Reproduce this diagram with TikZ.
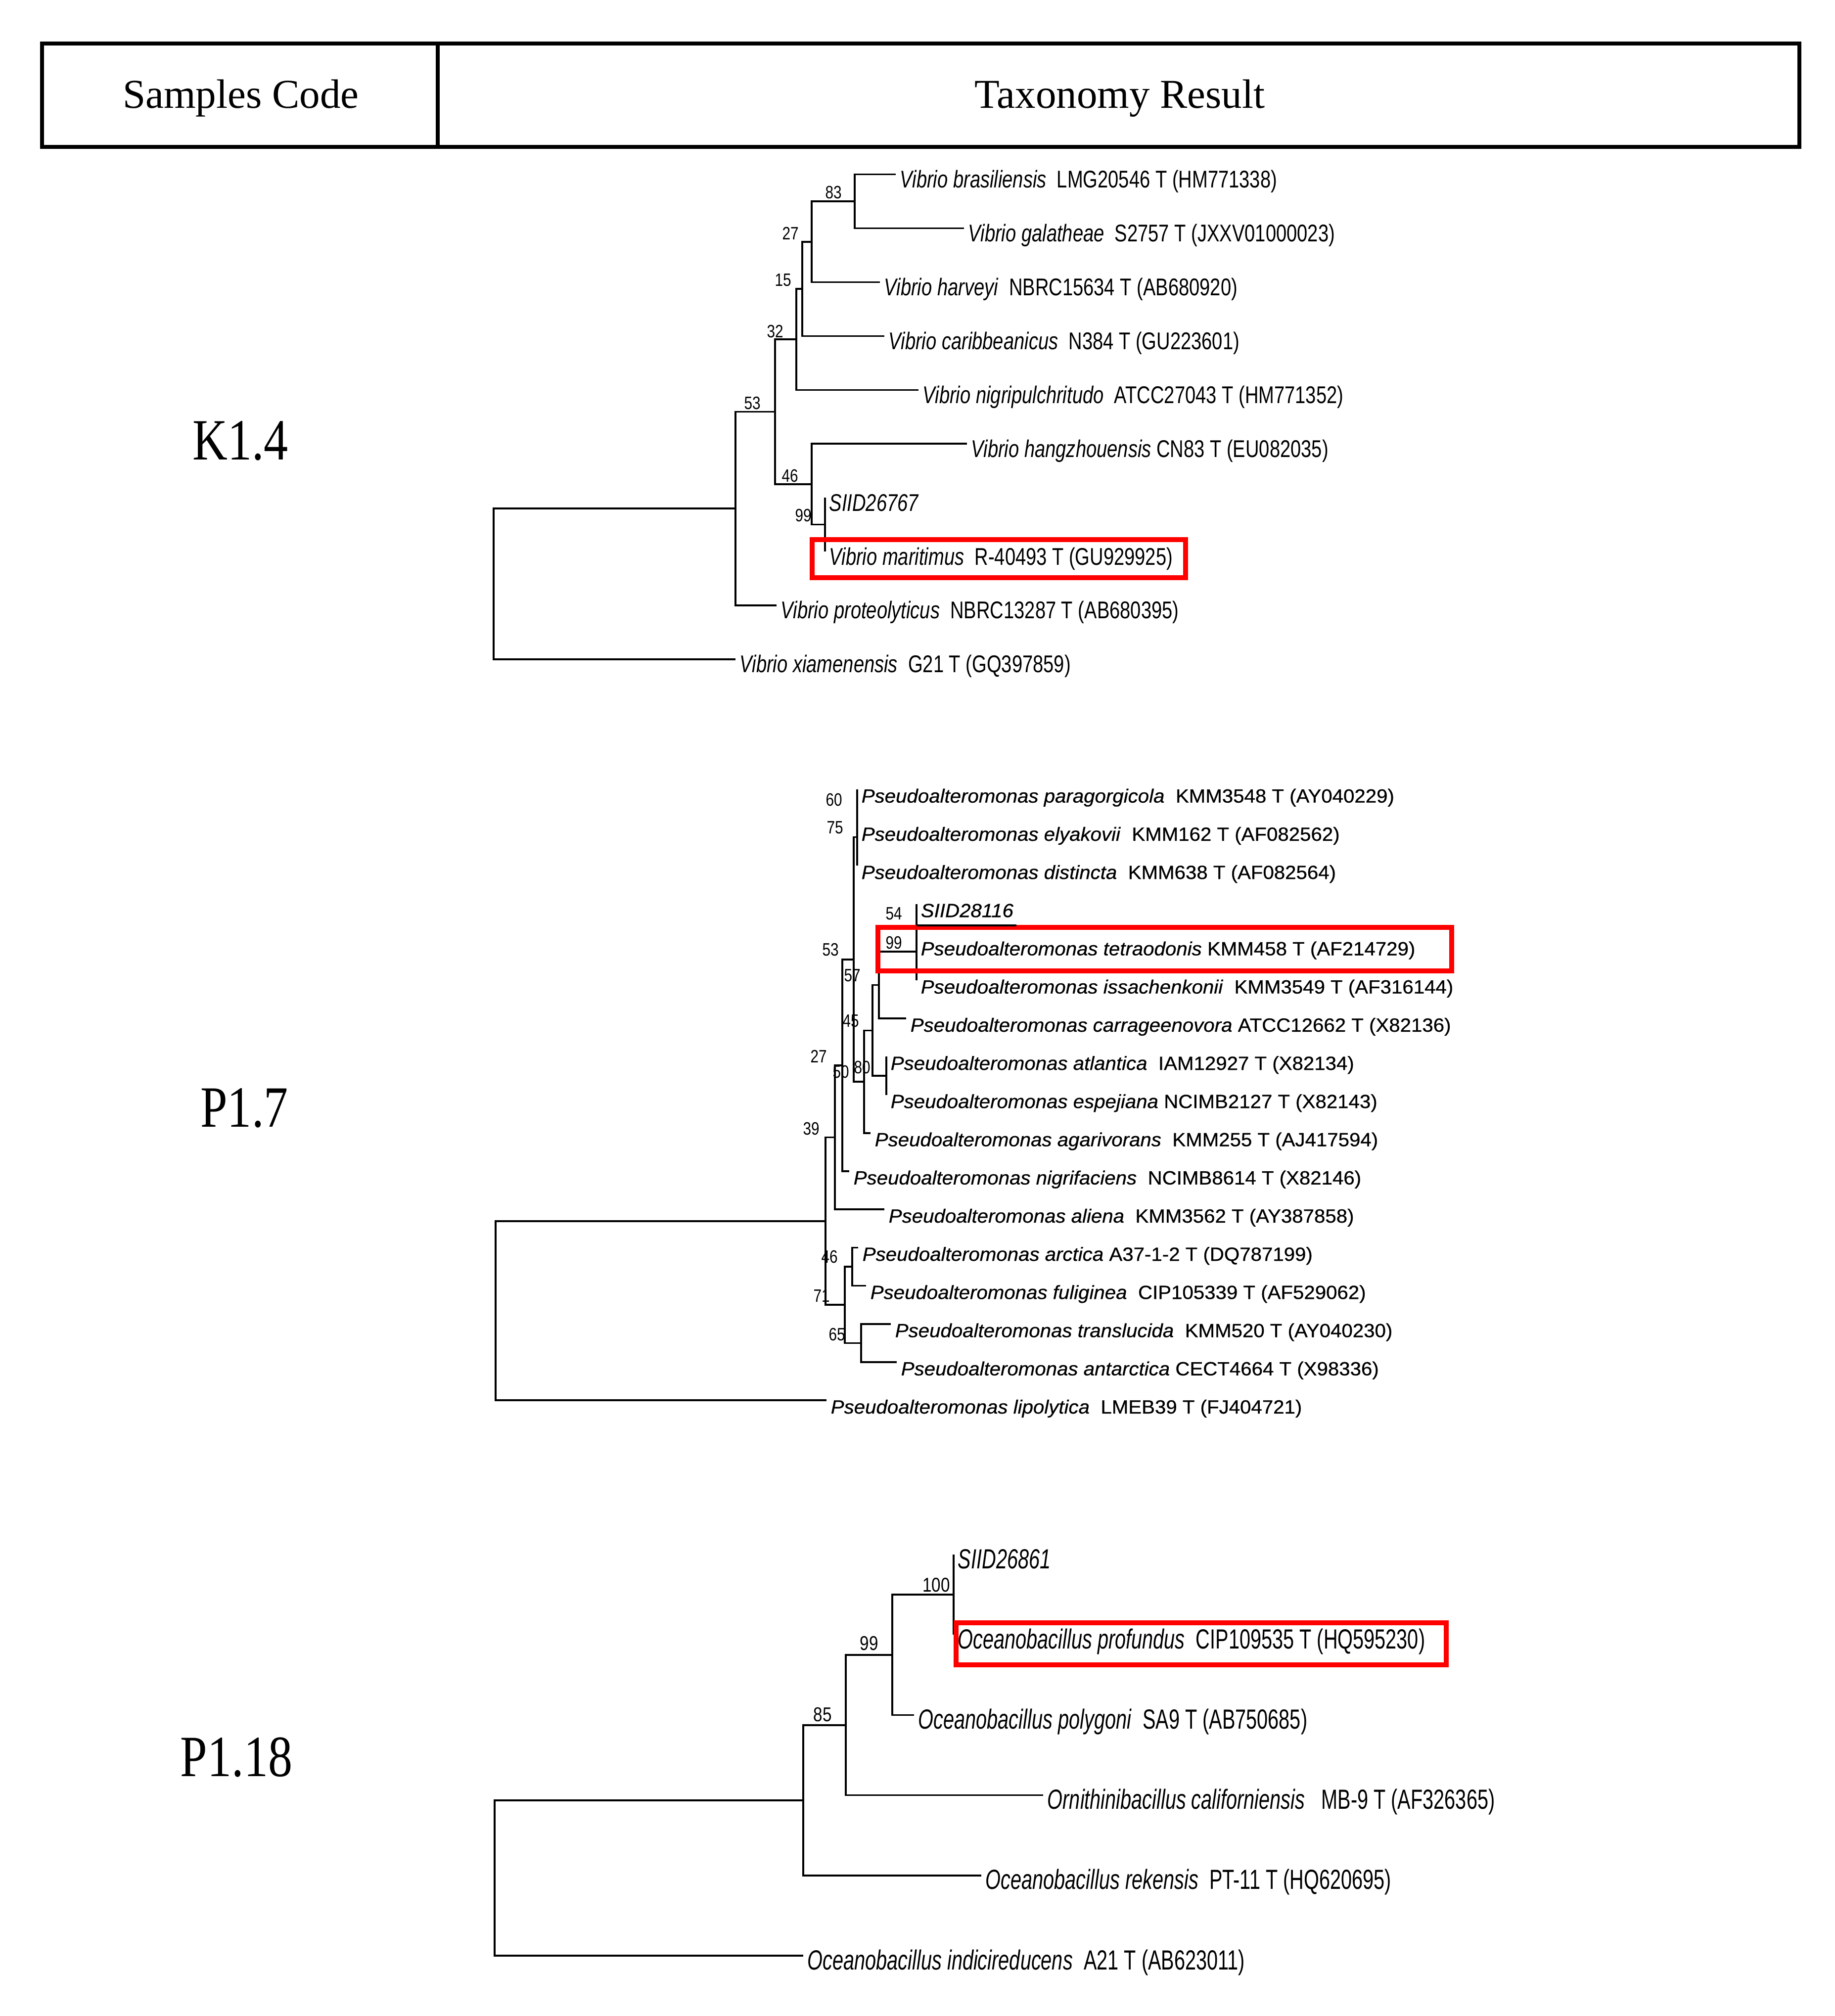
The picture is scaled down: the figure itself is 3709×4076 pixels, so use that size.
\documentclass[tikz,border=0pt]{standalone}
\usepackage{fontspec}
\setmainfont{Liberation Serif}
\newfontfamily\codeFont[FakeStretch=0.83]{Liberation Serif}
\newfontfamily\vibrioFont[FakeStretch=0.78]{Liberation Sans}
\newfontfamily\pseudoFont[FakeStretch=1.04,FakeBold=0.6]{Liberation Sans}
\newfontfamily\oceanoFont[FakeStretch=0.71]{Liberation Sans}
\newfontfamily\bootFont[FakeStretch=0.82]{Liberation Sans}
\usetikzlibrary{calc,positioning}

\begin{document}
\begin{tikzpicture}[x=0.01cm,y=-0.01cm,
  grid/.style={line width=2.2pt},
  br/.style={line width=1pt},
  hl/.style={draw=red,line width=2.8pt},
  head/.style={anchor=base,inner sep=0pt,font=\fontsize{23.6}{28}\selectfont},
  code/.style={inner sep=0pt,font=\codeFont\fontsize{33.6}{40}\selectfont},
  leafK/.style={anchor=base west,inner sep=0pt,xshift=2.3pt,yshift=-7.7pt,
                font=\vibrioFont\fontsize{13.9}{16}\selectfont},
  leafP/.style={anchor=base west,inner sep=0pt,xshift=2.3pt,yshift=-7.6pt,
                font=\pseudoFont\fontsize{11}{13}\selectfont},
  leafO/.style={anchor=base west,inner sep=0pt,xshift=2.3pt,yshift=-8pt,
                font=\oceanoFont\fontsize{15.9}{19}\selectfont},
  bootK/.style={inner sep=0pt,font=\bootFont\fontsize{10.3}{12}\selectfont},
  bootP/.style={inner sep=0pt,font=\bootFont\fontsize{10.3}{12}\selectfont},
  bootO/.style={inner sep=0pt,font=\bootFont\fontsize{11.5}{13}\selectfont}]
  \useasboundingbox (0,0) rectangle (3709,4076);

  % header table
  \draw[grid] (85,88) rectangle (3638,297);
  \draw[grid] (885,88) -- (885,297);
  \node[head] (hcode) at (487,219) {Samples Code};
  \node[head] (hres)  at (2264,219) {Taxonomy Result};
  \node[code] (c1) at (486,891)  {K1.4};
  \node[code] (c2) at (494,2240) {P1.7};
  \node[code] (c3) at (478,3553) {P1.18};

  % ---- K1.4 tree ----
  \coordinate (kt0) at (1811,352.7);  \coordinate (kt1) at (1949,461.6);
  \coordinate (kt2) at (1779,570.5);  \coordinate (kt3) at (1788,679.4);
  \coordinate (kt4) at (1857,788.3);  \coordinate (kt5) at (1955,897.2);
  \coordinate (kt6) at (1668,1006.1); \coordinate (kt7) at (1668,1115);
  \coordinate (kt8) at (1570,1223.9); \coordinate (kt9) at (1487,1332.8);
  \coordinate (k83) at (1728,407.2);  \coordinate (k27) at (1641,488.9);
  \coordinate (k15) at (1622,584.1);  \coordinate (k32) at (1610,686.2);
  \coordinate (k99) at (1668,1060.6); \coordinate (k46) at (1641,978.9);
  \coordinate (k53) at (1567,832.6);  \coordinate (kA)  at (1487,1028.2);
  \coordinate (kR)  at (998,1180.5);
  \draw[br] (kR) |- (kA);   \draw[br] (kR) |- (kt9);
  \draw[br] (kA) |- (k53);  \draw[br] (kA) |- (kt8);
  \draw[br] (k53) |- (k32); \draw[br] (k53) |- (k46);
  \draw[br] (k32) |- (k15); \draw[br] (k32) |- (kt4);
  \draw[br] (k15) |- (k27); \draw[br] (k15) |- (kt3);
  \draw[br] (k27) |- (k83); \draw[br] (k27) |- (kt2);
  \draw[br] (k83) |- (kt0); \draw[br] (k83) |- (kt1);
  \draw[br] (k46) |- (kt5); \draw[br] (k46) |- (k99);
  \draw[br] (kt6) -- (kt7);
  \node[leafK] (kl0) at (kt0) {\textit{Vibrio brasiliensis}\ \ LMG20546 T (HM771338)};
  \node[leafK] (kl1) at (kt1) {\textit{Vibrio galatheae}\ \ S2757 T (JXXV01000023)};
  \node[leafK] (kl2) at (kt2) {\textit{Vibrio harveyi}\ \ NBRC15634 T (AB680920)};
  \node[leafK] (kl3) at (kt3) {\textit{Vibrio caribbeanicus}\ \ N384 T (GU223601)};
  \node[leafK] (kl4) at (kt4) {\textit{Vibrio nigripulchritudo}\ \ ATCC27043 T (HM771352)};
  \node[leafK] (kl5) at (kt5) {\textit{Vibrio hangzhouensis} CN83 T (EU082035)};
  \node[leafK] (kl6) at (kt6) {\textit{SIID26767}};
  \node[leafK] (kl7) at (kt7) {\textit{Vibrio maritimus}\ \ R-40493 T (GU929925)};
  \node[leafK] (kl8) at (kt8) {\textit{Vibrio proteolyticus}\ \ NBRC13287 T (AB680395)};
  \node[leafK] (kl9) at (kt9) {\textit{Vibrio xiamenensis}\ \ G21 T (GQ397859)};
  \node[bootK] (bk83) at (1685,389) {83};
  \node[bootK] (bk27) at (1598,472) {27};
  \node[bootK] (bk15) at (1583,566) {15};
  \node[bootK] (bk32) at (1567,670) {32};
  \node[bootK] (bk53) at (1521,815) {53};
  \node[bootK] (bk46) at (1597,962) {46};
  \node[bootK] (bk99) at (1624,1042) {99};
  \draw[hl] (1642,1091) rectangle (2397,1168);

  % ---- P1.7 tree ----
  \coordinate (pt0) at (1733,1596);    \coordinate (pt1) at (1733,1673.2);
  \coordinate (pt2) at (1733,1750.4);  \coordinate (pt3) at (1853,1827.6);
  \coordinate (pt4) at (1853,1904.8);  \coordinate (pt5) at (1853,1982);
  \coordinate (pt6) at (1832,2059.2);  \coordinate (pt7) at (1792,2136.4);
  \coordinate (pt8) at (1792,2213.6);  \coordinate (pt9) at (1760,2290.8);
  \coordinate (pt10) at (1717,2368);   \coordinate (pt11) at (1788,2445.2);
  \coordinate (pt12) at (1735,2522.4); \coordinate (pt13) at (1751,2599.6);
  \coordinate (pt14) at (1801,2676.8); \coordinate (pt15) at (1813,2754);
  \coordinate (pt16) at (1671,2831.2);
  \coordinate (p75) at (1733,1692.5);  \coordinate (p99) at (1853,1924.1);
  \coordinate (p57) at (1777,1991.7);  \coordinate (p80) at (1792,2175);
  \coordinate (p45) at (1764,2083.3);  \coordinate (pB)  at (1747,2187);
  \coordinate (p53) at (1726,1939.8);  \coordinate (p27) at (1703,2153.9);
  \coordinate (p50) at (1688,2299.5);  \coordinate (p39) at (1669,2468.9);
  \coordinate (p46) at (1723,2561);    \coordinate (p65) at (1741,2715.4);
  \coordinate (p71) at (1708,2638.2);  \coordinate (pR)  at (1002,2650);
  \draw[br] (pR) |- (p39);  \draw[br] (pR) |- (pt16);
  \draw[br] (p39) |- (p50); \draw[br] (p39) |- (p71);
  \draw[br] (p50) |- (p27); \draw[br] (p50) |- (pt11);
  \draw[br] (p27) |- (p53); \draw[br] (p27) |- (pt10);
  \draw[br] (p53) |- (p75); \draw[br] (p53) |- (pB);
  \draw[br] (pB) |- (p45);  \draw[br] (pB) |- (pt9);
  \draw[br] (p45) |- (p57); \draw[br] (p45) |- (p80);
  \draw[br] (p57) |- (p99); \draw[br] (p57) |- (pt6);
  \draw[br] (pt0) -- (pt2); \draw[br] (pt3) -- (pt5); \draw[br] (pt7) -- (pt8);
  \draw[br] (p71) |- (p46); \draw[br] (p71) |- (p65);
  \draw[br] (p46) |- (pt12); \draw[br] (p46) |- (pt13);
  \draw[br] (p65) |- (pt14); \draw[br] (p65) |- (pt15);
  \node[leafP] (pl0) at (pt0) {\textit{Pseudoalteromonas paragorgicola}\ \ KMM3548 T (AY040229)};
  \node[leafP] (pl1) at (pt1) {\textit{Pseudoalteromonas elyakovii}\ \ KMM162 T (AF082562)};
  \node[leafP] (pl2) at (pt2) {\textit{Pseudoalteromonas distincta}\ \ KMM638 T (AF082564)};
  \node[leafP] (pl3) at (pt3) {\textit{SIID28116}};
  \node[leafP] (pl4) at (pt4) {\textit{Pseudoalteromonas tetraodonis} KMM458 T (AF214729)};
  \node[leafP] (pl5) at (pt5) {\textit{Pseudoalteromonas issachenkonii}\ \ KMM3549 T (AF316144)};
  \node[leafP] (pl6) at (pt6) {\textit{Pseudoalteromonas carrageenovora} ATCC12662 T (X82136)};
  \node[leafP] (pl7) at (pt7) {\textit{Pseudoalteromonas atlantica}\ \ IAM12927 T (X82134)};
  \node[leafP] (pl8) at (pt8) {\textit{Pseudoalteromonas espejiana} NCIMB2127 T (X82143)};
  \node[leafP] (pl9) at (pt9) {\textit{Pseudoalteromonas agarivorans}\ \ KMM255 T (AJ417594)};
  \node[leafP] (pl10) at (pt10) {\textit{Pseudoalteromonas nigrifaciens}\ \ NCIMB8614 T (X82146)};
  \node[leafP] (pl11) at (pt11) {\textit{Pseudoalteromonas aliena}\ \ KMM3562 T (AY387858)};
  \node[leafP] (pl12) at (pt12) {\textit{Pseudoalteromonas arctica} A37-1-2 T (DQ787199)};
  \node[leafP] (pl13) at (pt13) {\textit{Pseudoalteromonas fuliginea}\ \ CIP105339 T (AF529062)};
  \node[leafP] (pl14) at (pt14) {\textit{Pseudoalteromonas translucida}\ \ KMM520 T (AY040230)};
  \node[leafP] (pl15) at (pt15) {\textit{Pseudoalteromonas antarctica} CECT4664 T (X98336)};
  \node[leafP] (pl16) at (pt16) {\textit{Pseudoalteromonas lipolytica}\ \ LMEB39 T (FJ404721)};
  \node[bootP] (bp60) at (1686,1617) {60};
  \node[bootP] (bp75) at (1688,1673) {75};
  \node[bootP] (bp54) at (1807,1847) {54};
  \node[bootP] (bp99) at (1807,1906) {99};
  \node[bootP] (bp53) at (1679,1920) {53};
  \node[bootP] (bp57) at (1723,1972) {57};
  \node[bootP] (bp45) at (1720,2064) {45};
  \node[bootP] (bp27) at (1655,2136) {27};
  \node[bootP] (bp80) at (1743,2158) {80};
  \node[bootP] (bp50) at (1700,2167) {50};
  \node[bootP] (bp39) at (1640,2282) {39};
  \node[bootP] (bp46) at (1677,2541) {46};
  \node[bootP] (bp71) at (1661,2620) {71};
  \node[bootP] (bp65) at (1692,2698) {65};
  \draw[hl] (1775,1875) rectangle (2935,1963);
  \draw[br] (1853,1871) -- (2055,1871);

  % ---- P1.18 tree ----
  \coordinate (ot0) at (1928,3143);   \coordinate (ot1) at (1928,3305.2);
  \coordinate (ot2) at (1848,3467.4); \coordinate (ot3) at (2109,3629.6);
  \coordinate (ot4) at (1984,3791.8); \coordinate (ot5) at (1624,3954);
  \coordinate (o100) at (1928,3224.1); \coordinate (o99) at (1804,3345.8);
  \coordinate (o85) at (1710,3487.7);  \coordinate (oA)  at (1624,3639.8);
  \coordinate (oR)  at (1000,3796.9);
  \draw[br] (oR) |- (oA);   \draw[br] (oR) |- (ot5);
  \draw[br] (oA) |- (o85);  \draw[br] (oA) |- (ot4);
  \draw[br] (o85) |- (o99); \draw[br] (o85) |- (ot3);
  \draw[br] (o99) |- (o100); \draw[br] (o99) |- (ot2);
  \draw[br] (ot0) -- (ot1);
  \node[leafO] (ol0) at (ot0) {\textit{SIID26861}};
  \node[leafO] (ol1) at (ot1) {\textit{Oceanobacillus profundus}\ \ CIP109535 T (HQ595230)};
  \node[leafO] (ol2) at (ot2) {\textit{Oceanobacillus polygoni}\ \ SA9 T (AB750685)};
  \node[leafO] (ol3) at (ot3) {\textit{Ornithinibacillus californiensis}\ \ \ MB-9 T (AF326365)};
  \node[leafO] (ol4) at (ot4) {\textit{Oceanobacillus rekensis}\ \ PT-11 T (HQ620695)};
  \node[leafO] (ol5) at (ot5) {\textit{Oceanobacillus indicireducens}\ \ A21 T (AB623011)};
  \node[bootO] (bo100) at (1893,3205) {100};
  \node[bootO] (bo99)  at (1757,3323) {99};
  \node[bootO] (bo85)  at (1663,3467) {85};
  \draw[hl] (1933,3281) rectangle (2924,3366);
\end{tikzpicture}
\end{document}
